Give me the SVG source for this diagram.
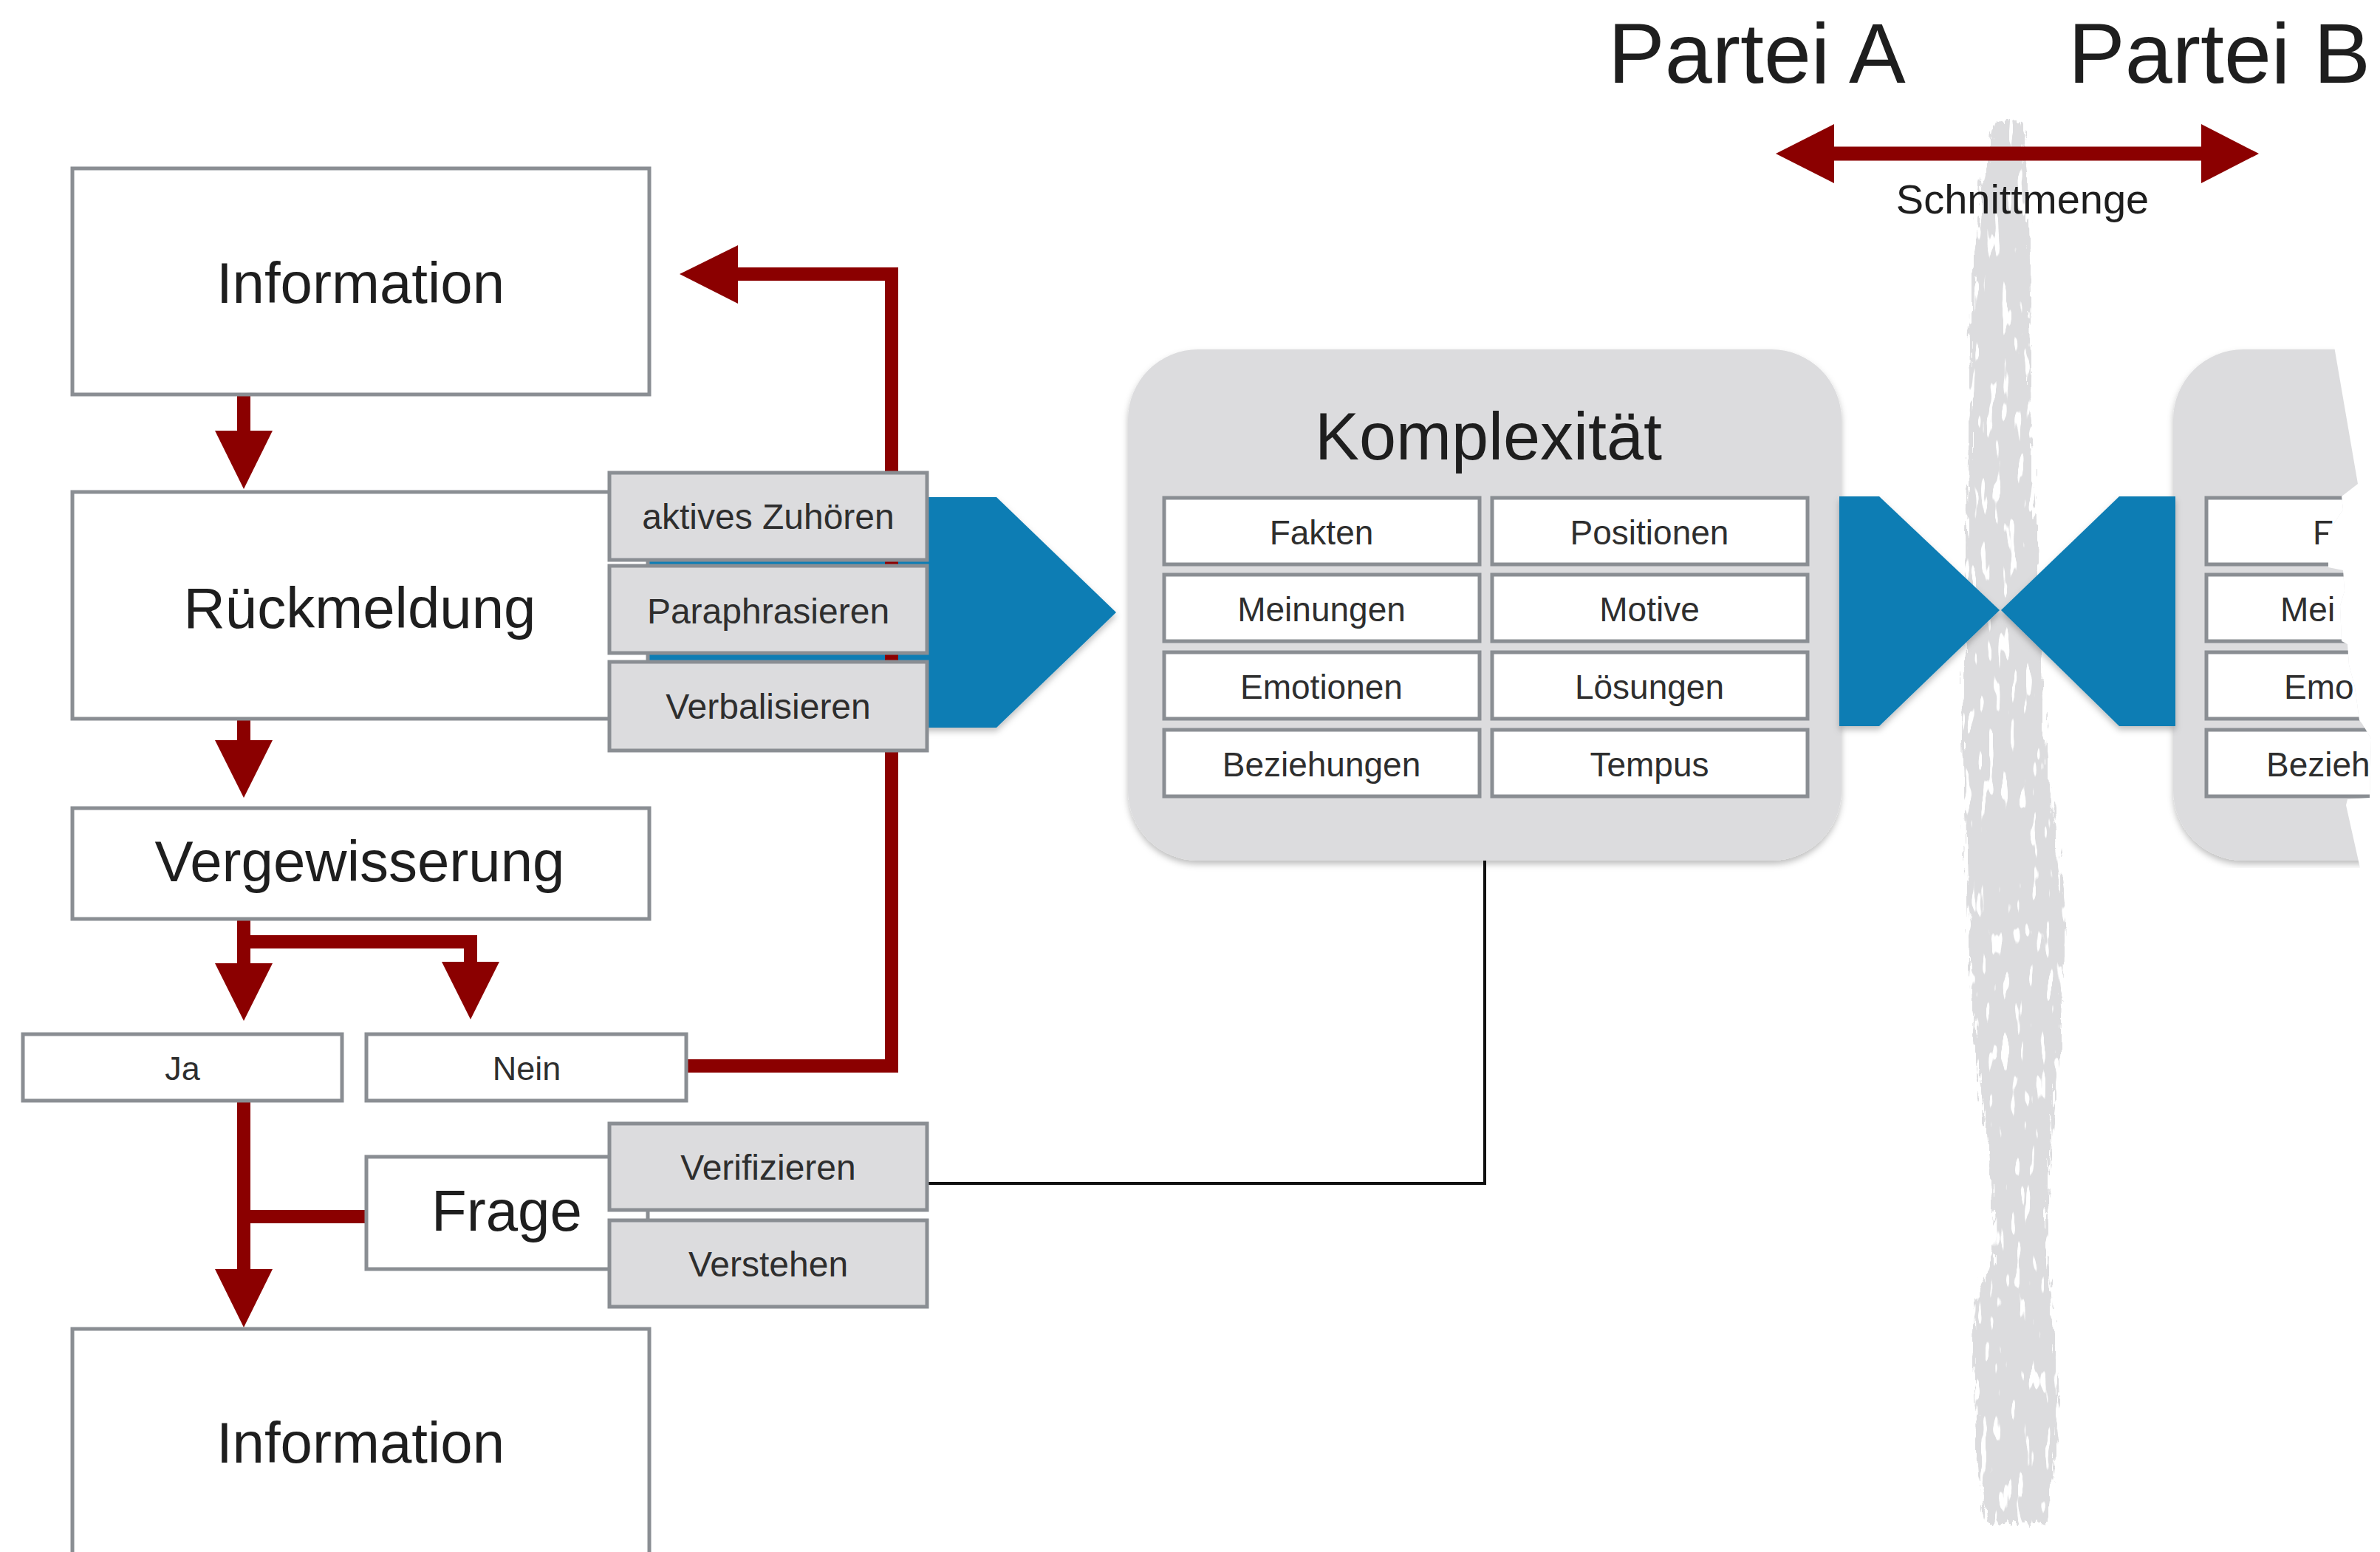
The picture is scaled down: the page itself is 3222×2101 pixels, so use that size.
<svg xmlns="http://www.w3.org/2000/svg" width="3222" height="2101" viewBox="0 0 3222 2101">
<style>
  text { font-family: "Liberation Sans", Arial, sans-serif; fill: #1e1e1e; }
  .box { fill: #ffffff; stroke: #8a8e93; stroke-width: 5; }
  .gbox { fill: #dcdcde; stroke: #8a8e93; stroke-width: 5; }
  .cell { fill: #ffffff; stroke: #8a8e93; stroke-width: 5; }
  .t78 { font-size: 78px; text-anchor: middle; }
  .t48 { font-size: 48px; text-anchor: middle; fill: #2e2e2e; }
  .t46 { font-size: 46px; text-anchor: middle; fill: #2e2e2e; }
  .t46s { font-size: 46px; fill: #2e2e2e; }
  .red { stroke: #8b0000; stroke-width: 18; fill: none; }
  .redf { fill: #8b0000; }
  .blue { fill: #0b7db4; }
  .thin { stroke: #111111; stroke-width: 4; fill: none; }
</style>
<defs>
  <filter id="sh" x="-10%" y="-10%" width="120%" height="130%">
    <feDropShadow dx="0" dy="5" stdDeviation="4" flood-color="#000" flood-opacity="0.25"/>
  </filter>
  <filter id="rough" x="-30%" y="-5%" width="160%" height="110%">
    <feTurbulence type="fractalNoise" baseFrequency="0.2 0.03" numOctaves="3" seed="3" result="n"/>
    <feDisplacementMap in="SourceGraphic" in2="n" scale="20" xChannelSelector="R" yChannelSelector="G" result="d"/>
    <feTurbulence type="fractalNoise" baseFrequency="0.1 0.02" numOctaves="2" seed="11" result="n2"/>
    <feColorMatrix in="n2" type="matrix" values="0 0 0 0 0  0 0 0 0 0  0 0 0 0 0  0 0 0 -25 17" result="m"/>
    <feComposite in="d" in2="m" operator="in"/>
  </filter>
  <clipPath id="cutB">
    <polygon points="2900,440 3155,440 3192,655 3170,672 3172,690 3152,720 3152,768 3172,772 3174,800 3168,820 3170,868 3178,872 3180,900 3188,930 3194,975 3198,980 3210,1000 3208,1080 3178,1082 3176,1090 3195,1175 2900,1175"/>
  </clipPath>
</defs>
<rect x="0" y="0" width="3222" height="2101" fill="#ffffff"/>

<!-- textured stripe -->
<g id="stripe">
  <path filter="url(#rough)" fill="#dcdcde" d="M2702,164 L2735,164 L2745,250 L2748,400 L2750,600 L2760,800 L2768,1000 L2780,1100 L2797,1250 L2790,1400 L2780,1500 L2772,1600 L2770,1700 L2778,1760 L2787,1900 L2780,2000 L2770,2062 L2690,2062 L2678,2000 L2673,1900 L2672,1760 L2700,1700 L2697,1600 L2685,1500 L2672,1400 L2665,1250 L2660,1100 L2657,1000 L2660,800 L2667,600 L2668,400 L2682,250 Z"/>
</g>

<!-- Partei titles -->
<g id="titles">
  <text x="2177" y="112" style="font-size:115px">Partei A</text>
  <text x="2800" y="112" style="font-size:115px">Partei B</text>
</g>

<!-- Komplexität box -->
<g id="komplexitaet">
  <rect x="1527" y="473" width="966" height="692" rx="95" ry="95" fill="#dcdcde" filter="url(#sh)"/>
  <text x="2015" y="622" style="font-size:90px; text-anchor:middle">Komplexität</text>
  <rect class="cell" x="1576" y="674" width="427" height="90"/>
  <rect class="cell" x="2020" y="674" width="427" height="90"/>
  <rect class="cell" x="1576" y="778" width="427" height="90"/>
  <rect class="cell" x="2020" y="778" width="427" height="90"/>
  <rect class="cell" x="1576" y="883" width="427" height="90"/>
  <rect class="cell" x="2020" y="883" width="427" height="90"/>
  <rect class="cell" x="1576" y="988" width="427" height="90"/>
  <rect class="cell" x="2020" y="988" width="427" height="90"/>
  <text class="t46" x="1789" y="737">Fakten</text>
  <text class="t46" x="2233" y="737">Positionen</text>
  <text class="t46" x="1789" y="841">Meinungen</text>
  <text class="t46" x="2233" y="841">Motive</text>
  <text class="t46" x="1789" y="946">Emotionen</text>
  <text class="t46" x="2233" y="946">Lösungen</text>
  <text class="t46" x="1789" y="1051">Beziehungen</text>
  <text class="t46" x="2233" y="1051">Tempus</text>
</g>

<!-- Partei B box (cut off) -->
<g id="partei-b-box" clip-path="url(#cutB)">
  <rect x="2942" y="473" width="500" height="692" rx="95" ry="95" fill="#dcdcde" filter="url(#sh)"/>
  <rect class="cell" x="2987" y="674" width="427" height="90"/>
  <rect class="cell" x="2987" y="778" width="427" height="90"/>
  <rect class="cell" x="2987" y="883" width="427" height="90"/>
  <rect class="cell" x="2987" y="988" width="427" height="90"/>
  <text class="t46s" x="3131" y="737">F</text>
  <text class="t46s" x="3087" y="841">Mei</text>
  <text class="t46s" x="3092" y="946">Emo</text>
  <text class="t46s" x="3068" y="1051">Bezieh</text>
</g>

<!-- blue arrows -->
<g id="blue-shapes">
  <polygon class="blue" filter="url(#sh)" points="879,673 1349,673 1511,829 1349,985 879,985"/>
  <polygon class="blue" filter="url(#sh)" points="2490,672 2544,672 2707,826 2544,983 2490,983"/>
  <polygon class="blue" filter="url(#sh)" points="2945,672 2869,672 2709,826 2869,983 2945,983"/>
</g>

<!-- connectors -->
<g id="connectors">
  <line class="red" x1="330" y1="534" x2="330" y2="590"/>
  <polygon class="redf" points="291,583 369,583 330,662"/>
  <line class="red" x1="330" y1="973" x2="330" y2="1008"/>
  <polygon class="redf" points="291,1002 369,1002 330,1080"/>
  <line class="red" x1="330" y1="1244" x2="330" y2="1310"/>
  <polygon class="redf" points="291,1304 369,1304 330,1382"/>
  <path class="red" d="M330,1275 H637 V1310"/>
  <polygon class="redf" points="598,1302 676,1302 637,1380"/>
  <line class="red" x1="330" y1="1490" x2="330" y2="1725"/>
  <polygon class="redf" points="291,1718 369,1718 330,1797"/>
  <line class="red" x1="496" y1="1647" x2="330" y2="1647"/>
  <path class="red" d="M929,1443 H1207 V371 H995"/>
  <polygon class="redf" points="999,332 999,411 920,371"/>
  <line class="red" x1="2478" y1="208" x2="2988" y2="208" style="stroke-width:19"/>
  <polygon class="redf" points="2483,168 2483,248 2404,208"/>
  <polygon class="redf" points="2980,168 2980,248 3058,208"/>
  <path class="thin" d="M1255,1602 H2010 V1165"/>
</g>
<text x="2738" y="289" style="font-size:56px; text-anchor:middle">Schnittmenge</text>

<!-- left column nodes -->
<g id="information-1">
  <rect class="box" x="98" y="228" width="781" height="306"/>
  <text class="t78" x="488" y="410">Information</text>
</g>
<g id="rueckmeldung">
  <rect class="box" x="98" y="666" width="779" height="307"/>
  <text class="t78" x="487" y="850">Rückmeldung</text>
</g>
<g id="vergewisserung">
  <rect class="box" x="98" y="1094" width="781" height="150"/>
  <text class="t78" x="487" y="1193">Vergewisserung</text>
</g>
<g id="ja">
  <rect class="box" x="31" y="1400" width="432" height="90"/>
  <text x="247" y="1462" style="font-size:45px; text-anchor:middle; fill:#2e2e2e">Ja</text>
</g>
<g id="nein">
  <rect class="box" x="496" y="1400" width="433" height="90"/>
  <text x="713" y="1462" style="font-size:45px; text-anchor:middle; fill:#2e2e2e">Nein</text>
</g>
<g id="frage">
  <rect class="box" x="496" y="1566" width="381" height="152"/>
  <text class="t78" x="686" y="1666">Frage</text>
</g>
<g id="information-2">
  <rect class="box" x="98" y="1799" width="781" height="340"/>
  <text class="t78" x="488" y="1980">Information</text>
</g>

<!-- gray method boxes -->
<g id="aktives-zuhoeren">
  <rect class="gbox" x="825" y="640" width="430" height="118"/>
  <text class="t48" x="1040" y="716">aktives Zuhören</text>
</g>
<g id="paraphrasieren">
  <rect class="gbox" x="825" y="766" width="430" height="118"/>
  <text class="t48" x="1040" y="844">Paraphrasieren</text>
</g>
<g id="verbalisieren">
  <rect class="gbox" x="825" y="896" width="430" height="120"/>
  <text class="t48" x="1040" y="973">Verbalisieren</text>
</g>
<g id="verifizieren">
  <rect class="gbox" x="825" y="1521" width="430" height="117"/>
  <text class="t48" x="1040" y="1597">Verifizieren</text>
</g>
<g id="verstehen">
  <rect class="gbox" x="825" y="1652" width="430" height="117"/>
  <text class="t48" x="1040" y="1728">Verstehen</text>
</g>
</svg>
